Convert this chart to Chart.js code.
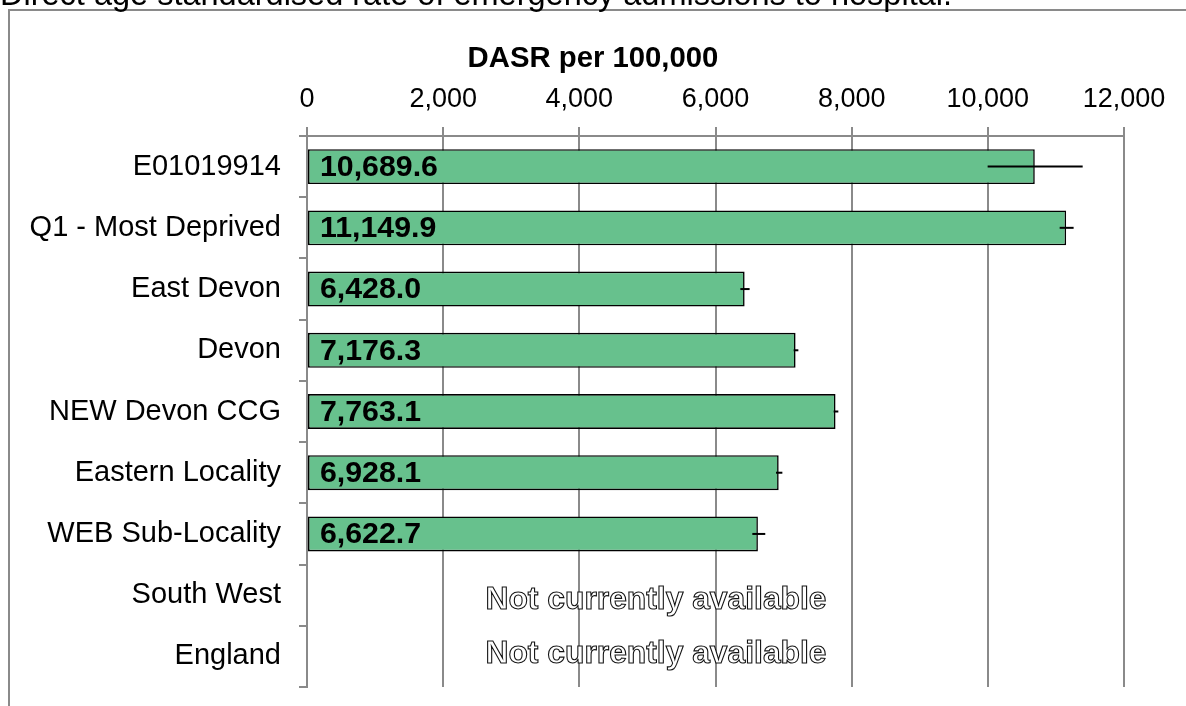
<!DOCTYPE html>
<html><head><meta charset="utf-8">
<script src="https://cdn.jsdelivr.net/npm/chart.js@4/dist/chart.umd.min.js"></script>
<style>html,body{margin:0;padding:0;background:#fff;}#wrap{width:1186px;height:706px;position:relative;}</style>
</head><body><div id="wrap"><canvas id="c" width="1186" height="706"></canvas></div>
<script>
const chartTitle = 'Direct age standardised rate of emergency admissions to hospital.';
const axisTitle = 'DASR per 100,000';
const categories = ['E01019914','Q1 - Most Deprived','East Devon','Devon','NEW Devon CCG','Eastern Locality','WEB Sub-Locality','South West','England'];
const dasr = [10689.6, 11149.9, 6428.0, 7176.3, 7763.1, 6928.1, 6622.7, null, null];
const lowerCI = [9997, 11055, 6365, 7148, 7735, 6889, 6541, null, null];
const upperCI = [11393, 11260, 6501, 7217, 7804, 6982, 6731, null, null];
const xTickLabels = ['0','2,000','4,000','6,000','8,000','10,000','12,000'];
const missingLabel = 'Not currently available';

const FONT = '"Liberation Sans", Arial, Helvetica, sans-serif';
const GRID = '#8a8a8a';

function fmt(v){ return v.toLocaleString('en-US',{minimumFractionDigits:1,maximumFractionDigits:1}); }

const overlay = {
  id:'overlay',
  beforeDraw(chart){
    const ctx = chart.ctx;
    ctx.save();
    ctx.fillStyle='#fff'; ctx.fillRect(0,0,chart.width,chart.height);
    ctx.strokeStyle=GRID; ctx.lineWidth=2;
    ctx.beginPath(); ctx.moveTo(9,chart.height); ctx.lineTo(9,10); ctx.lineTo(chart.width,10); ctx.stroke();
    ctx.fillStyle='#000'; ctx.font='32.5px '+FONT; ctx.textBaseline='alphabetic'; ctx.textAlign='left';
    ctx.fillText(chartTitle, 0, 5);
    ctx.font='bold 29.3px '+FONT; ctx.textAlign='center'; ctx.textBaseline='middle';
    ctx.fillText(axisTitle, 593, 59);
    ctx.restore();
  },
  afterDatasetsDraw(chart){
    const ctx = chart.ctx, x = chart.scales.x, y = chart.scales.y, ca = chart.chartArea;
    const meta = chart.getDatasetMeta(0);
    ctx.save();
    ctx.strokeStyle='#000'; ctx.lineWidth=2;
    dasr.forEach((v,i)=>{
      if(v==null) return;
      const yc = y.getPixelForValue(i);
      ctx.beginPath(); ctx.moveTo(x.getPixelForValue(lowerCI[i]), yc); ctx.lineTo(x.getPixelForValue(upperCI[i]), yc); ctx.stroke();
    });
    ctx.font='bold 30.3px '+FONT; ctx.textBaseline='middle'; ctx.textAlign='left'; ctx.fillStyle='#000';
    dasr.forEach((v,i)=>{
      if(v==null) return;
      ctx.fillText(fmt(v), ca.left+13, meta.data[i].y+1);
    });
    ctx.font='bold 31.8px '+FONT; ctx.textAlign='center';
    let k = 0;
    const shift = [5, -2];
    dasr.forEach((v,i)=>{
      if(v!=null) return;
      const yc = y.getPixelForValue(i) + (shift[k++] || 0);
      const xc = ca.left + 349;
      ctx.fillStyle='#fff'; ctx.fillText(missingLabel, xc, yc);
      ctx.lineWidth=1.1; ctx.strokeStyle='#111'; ctx.strokeText(missingLabel, xc, yc);
    });
    ctx.restore();
  }
};

new Chart(document.getElementById('c'), {
  type:'bar',
  data:{ labels:categories, datasets:[{ data:dasr, backgroundColor:'#67c18d', borderColor:'#000', borderWidth:1.6, borderSkipped:false, barPercentage:0.57, categoryPercentage:1 }]},
  options:{
    indexAxis:'y', responsive:false, animation:false, devicePixelRatio:1,
    layout:{ padding:{ top:0, left:0, right:62, bottom:19 } },
    plugins:{ legend:{display:false}, tooltip:{enabled:false}, title:{display:false} },
    scales:{
      x:{ position:'top', min:0, max:12000,
        ticks:{ stepSize:2000, color:'#000', font:{family:FONT,size:27}, padding:11, maxRotation:0,
          callback:(v,i)=>xTickLabels[i] },
        grid:{ color:GRID, lineWidth:2, tickLength:9, drawTicks:true },
        border:{ color:GRID, width:2 },
        afterFit:(s)=>{ s.height = 136; s.paddingLeft = 0; s.paddingRight = 0; }
      },
      y:{
        ticks:{ color:'#000', font:{family:FONT,size:29}, padding:18 },
        grid:{ color:GRID, lineWidth:2, tickLength:8, drawOnChartArea:false, offset:true },
        border:{ color:GRID, width:2 },
        afterFit:(s)=>{ s.width = 307; s.paddingTop = 0; s.paddingBottom = 0; }
      }
    }
  },
  plugins:[overlay]
});
</script></body></html>
